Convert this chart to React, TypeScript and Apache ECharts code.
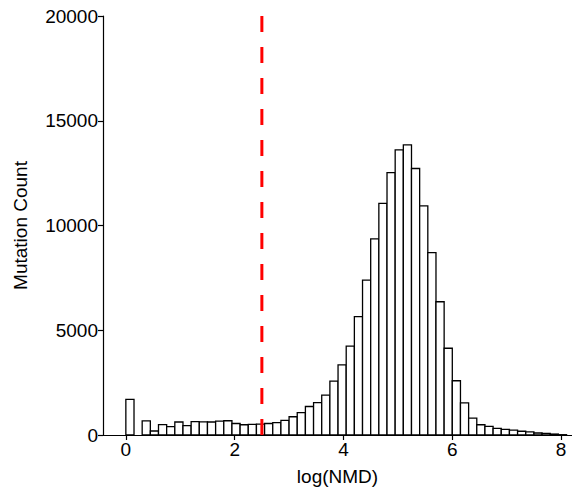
import React, { useEffect, useRef } from "react";
import * as echarts from "echarts";

const binStart = 0;
const binWidth = 0.15;
const counts = [
  1700, 0, 670, 190, 500, 400, 620, 450, 640, 630,
  620, 660, 680, 550, 490, 510, 515, 550, 590, 700,
  870, 1065, 1360, 1550, 1900, 2570, 3350, 4240, 5650, 7390,
  9360, 11060, 12520, 13610, 13850, 12720, 10940, 8710, 6360, 4140,
  2590, 1530, 810, 490, 410, 315, 270, 230, 180, 145,
  95, 75, 45, 15,
];
const xTicks = [0, 2, 4, 6, 8];
const yTicks = [0, 5000, 10000, 15000, 20000];
const cutoff = 2.5;

const FONT = "'Liberation Sans', Arial, sans-serif";
const FS = 19;

export default function App() {
  const ref = useRef<HTMLDivElement>(null);
  useEffect(() => {
    if (!ref.current) return;
    const chart = echarts.init(ref.current, undefined, { renderer: "svg" });
    const binData = counts
      .map((c, i) => [binStart + i * binWidth, binStart + (i + 1) * binWidth, c])
      .filter((d) => d[2] > 0);
    chart.setOption({
      animation: false,
      backgroundColor: "#fff",
      grid: { left: 103, right: 0, top: 16, bottom: 56 },
      xAxis: {
        type: "value",
        min: -0.42,
        max: 8.2,
        name: "log(NMD)",
        nameLocation: "middle",
        nameGap: 32,
        nameTextStyle: { color: "#000", fontSize: FS, fontFamily: FONT },
        axisLine: { onZero: false, lineStyle: { color: "#000", width: 1.2 } },
        axisTick: { show: true, length: 5, customValues: xTicks, lineStyle: { color: "#000", width: 1.2 } },
        axisLabel: {
          customValues: xTicks,
          color: "#000",
          fontSize: FS,
          fontFamily: FONT,
          margin: 5,
          formatter: (v: number) => String(v),
        },
        splitLine: { show: false },
      },
      yAxis: {
        type: "value",
        min: 0,
        max: 20000,
        interval: 5000,
        name: "Mutation Count",
        nameLocation: "middle",
        nameGap: 73,
        nameTextStyle: { color: "#000", fontSize: FS, fontFamily: FONT },
        axisLine: { show: true, onZero: false, lineStyle: { color: "#000", width: 1.2 } },
        axisTick: { show: true, length: 5, customValues: yTicks, lineStyle: { color: "#000", width: 1.2 } },
        axisLabel: {
          customValues: yTicks,
          color: "#000",
          fontSize: FS,
          fontFamily: FONT,
          margin: 5,
          formatter: (v: number) => String(v),
        },
        splitLine: { show: false },
      },
      series: [
        {
          type: "custom",
          data: binData,
          encode: { x: [0, 1], y: 2 },
          clip: false,
          renderItem: (params: any, api: any) => {
            const s = api.value(0);
            const e = api.value(1);
            const c = api.value(2);
            const p0 = api.coord([s, 0]);
            const p1 = api.coord([e, c]);
            return {
              type: "rect",
              shape: { x: p0[0], y: p1[1], width: p1[0] - p0[0], height: p0[1] - p1[1] },
              style: { fill: "#fff", stroke: "#000", lineWidth: 1.3 },
            };
          },
          z: 2,
        },
        {
          type: "line",
          data: [
            [cutoff, 0],
            [cutoff, 20000],
          ],
          symbol: "none",
          lineStyle: { color: "#ff0000", width: 3, type: [16, 15] },
          z: 5,
        },
      ],
    });
    return () => chart.dispose();
  }, []);
  return (
    <div
      ref={ref}
      style={{ position: "absolute", left: 0, top: 0, width: 572, height: 491 }}
    />
  );
}
